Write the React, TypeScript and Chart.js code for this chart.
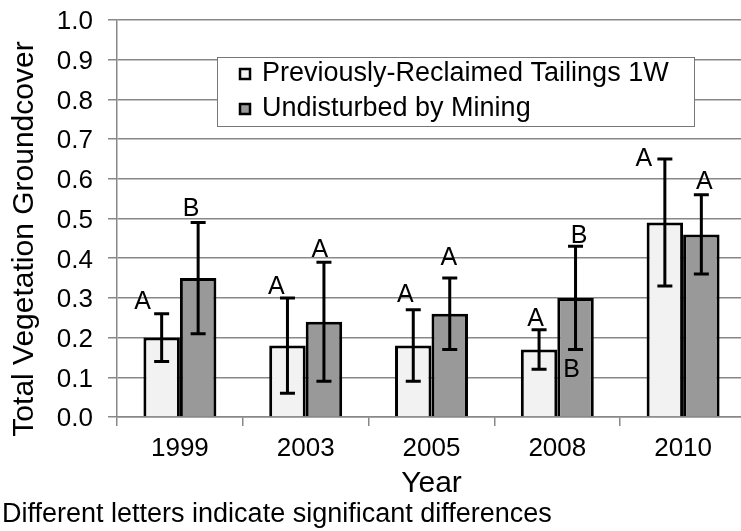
import React, { useEffect, useRef } from "react";
import { Chart, registerables } from "chart.js";

Chart.register(...registerables);

const years = ["1999", "2003", "2005", "2008", "2010"];
const seriesNames = ["Previously-Reclaimed Tailings 1W", "Undisturbed by Mining"];
const reclaimed = [0.2, 0.18, 0.18, 0.17, 0.49];
const reclaimedLow = [0.14, 0.06, 0.09, 0.12, 0.33];
const reclaimedHigh = [0.26, 0.3, 0.27, 0.22, 0.65];
const undisturbed = [0.35, 0.24, 0.26, 0.3, 0.46];
const undisturbedLow = [0.21, 0.09, 0.17, 0.17, 0.36];
const undisturbedHigh = [0.49, 0.39, 0.35, 0.43, 0.56];
const reclaimedLetters = ["A", "A", "A", "A", "A"];
const undisturbedLetters = ["B", "A", "A", "B", "A"];
const undisturbedInnerLetters = ["", "", "", "B", ""];
const innerLetterValue = 0.117;
const yTicks = [0, 0.1, 0.2, 0.3, 0.4, 0.5, 0.6, 0.7, 0.8, 0.9, 1.0];
const yTickLabels = ["0.0", "0.1", "0.2", "0.3", "0.4", "0.5", "0.6", "0.7", "0.8", "0.9", "1.0"];
const yTitle = "Total Vegetation Groundcover";
const xTitle = "Year";
const footnote = "Different letters indicate significant differences";

const FONT = "'Liberation Sans', Arial, sans-serif";
const lowArr = [reclaimedLow, undisturbedLow];
const highArr = [reclaimedHigh, undisturbedHigh];
const letterArr = [reclaimedLetters, undisturbedLetters];

const overlayPlugin = {
  id: "overlay",
  afterDatasetsDraw(chart: any, _args: any, opts: any) {
    const ctx = chart.ctx;
    const y = chart.scales.y;
    ctx.save();
    ctx.strokeStyle = "#000";
    ctx.lineWidth = 3;
    for (let d = 0; d < 2; d++) {
      const meta = chart.getDatasetMeta(d);
      meta.data.forEach((bar: any, j: number) => {
        const x = bar.x;
        const yl = y.getPixelForValue(lowArr[d][j]);
        const yh = y.getPixelForValue(highArr[d][j]);
        ctx.beginPath();
        ctx.moveTo(x, yl);
        ctx.lineTo(x, yh);
        ctx.moveTo(x - 7.5, yl);
        ctx.lineTo(x + 7.5, yl);
        ctx.moveTo(x - 7.5, yh);
        ctx.lineTo(x + 7.5, yh);
        ctx.stroke();
      });
    }
    ctx.fillStyle = "#000";
    ctx.font = `25px ${FONT}`;
    ctx.textAlign = "center";
    ctx.textBaseline = "alphabetic";
    for (let d = 0; d < 2; d++) {
      const meta = chart.getDatasetMeta(d);
      meta.data.forEach((bar: any, j: number) => {
        const yh = y.getPixelForValue(highArr[d][j]);
        const [dx, dy] = opts.nudges[d][j];
        ctx.fillText(letterArr[d][j], bar.x + dx, yh + dy);
      });
    }
    const meta1 = chart.getDatasetMeta(1);
    meta1.data.forEach((bar: any, j: number) => {
      if (!undisturbedInnerLetters[j]) return;
      ctx.textBaseline = "middle";
      ctx.fillText(undisturbedInnerLetters[j], bar.x - 4, y.getPixelForValue(innerLetterValue));
    });
    ctx.restore();
  },
  afterDraw(chart: any) {
    const ctx = chart.ctx;
    const area = chart.chartArea;
    const yScale = chart.scales.y;
    ctx.save();
    ctx.fillStyle = "#000";
    ctx.font = `26px ${FONT}`;
    ctx.textAlign = "right";
    ctx.textBaseline = "alphabetic";
    yTicks.forEach((v, i) => {
      const py = yScale.getPixelForValue(v);
      ctx.fillText(yTickLabels[i], 93, py + 0.358 * 26);
    });
    ctx.save();
    ctx.translate(33, 239);
    ctx.rotate(-Math.PI / 2);
    ctx.textAlign = "center";
    ctx.textBaseline = "alphabetic";
    ctx.font = `30px ${FONT}`;
    ctx.fillText(yTitle, 0, 0);
    ctx.restore();
    ctx.fillStyle = "#fff";
    ctx.fillRect(217.5, 57.5, 477, 69);
    ctx.strokeStyle = "#777";
    ctx.lineWidth = 1;
    ctx.strokeRect(217.5, 57.5, 477, 69);
    const rows = [74, 109];
    const colors = chart.data.datasets.map((ds: any) => ds.backgroundColor);
    ctx.font = `27px ${FONT}`;
    ctx.textBaseline = "middle";
    ctx.textAlign = "left";
    rows.forEach((ry, i) => {
      ctx.fillStyle = colors[i];
      ctx.fillRect(240, ry - 5, 10, 10);
      ctx.strokeStyle = "#000";
      ctx.lineWidth = 2.5;
      ctx.strokeRect(240, ry - 5, 10, 10);
      ctx.fillStyle = "#000";
      ctx.fillText(chart.data.datasets[i].label, 262, ry);
    });
    ctx.textAlign = "center";
    ctx.textBaseline = "middle";
    ctx.font = `30px ${FONT}`;
    ctx.fillText(xTitle, (area.left + area.right) / 2, 484);
    ctx.textAlign = "left";
    ctx.font = `27px ${FONT}`;
    ctx.fillText(footnote, 2, 515);
    ctx.restore();
  },
};

export default function App() {
  const ref = useRef<HTMLCanvasElement>(null);
  useEffect(() => {
    document.body.style.margin = "0";
    const chart = new Chart(ref.current!, {
      type: "bar",
      data: {
        labels: years,
        datasets: [
          {
            label: seriesNames[0],
            data: reclaimed,
            backgroundColor: "#f2f2f2",
            borderColor: "#000",
            borderWidth: 3,
            barPercentage: 1,
            categoryPercentage: 0.58,
          },
          {
            label: seriesNames[1],
            data: undisturbed,
            backgroundColor: "#999999",
            borderColor: "#000",
            borderWidth: 3,
            barPercentage: 1,
            categoryPercentage: 0.58,
          },
        ],
      },
      options: {
        responsive: false,
        devicePixelRatio: 1,
        animation: false,
        layout: { padding: { left: 0, top: 20, right: 14, bottom: 0 } },
        plugins: {
          legend: { display: false },
          tooltip: { enabled: false },
          overlay: {
            nudges: [
              [[-19, -5], [-11, -4], [-8, -8], [-3.5, -4], [-21, 7]],
              [[-7, -6.5], [-4, -5], [-1, -13], [3.5, -3.5], [3, -6]],
            ],
          },
        } as any,
        scales: {
          x: {
            grid: { offset: true, drawOnChartArea: false, drawTicks: true, tickLength: 9, color: "#888", lineWidth: 1.5 },
            border: { color: "#888", width: 1.5 },
            ticks: { font: { family: FONT, size: 26 }, color: "#000", padding: 7 },
            afterFit: (s: any) => { s.height = 114; },
          },
          y: {
            min: 0,
            max: 1,
            afterBuildTicks: (s: any) => { s.ticks = yTicks.map((v) => ({ value: v })); },
            ticks: { display: false },
            grid: { color: "#888", lineWidth: 1.5, tickLength: 9, drawTicks: true },
            border: { color: "#888", width: 1.5 },
            afterFit: (s: any) => { s.width = 117; },
          },
        },
      },
      plugins: [overlayPlugin],
    });
    return () => chart.destroy();
  }, []);
  return (
    <div style={{ width: 741, height: 531, overflow: "hidden", position: "relative" }}>
      <canvas ref={ref} width={760} height={531} style={{ width: 760, height: 531, display: "block" }} />
    </div>
  );
}
